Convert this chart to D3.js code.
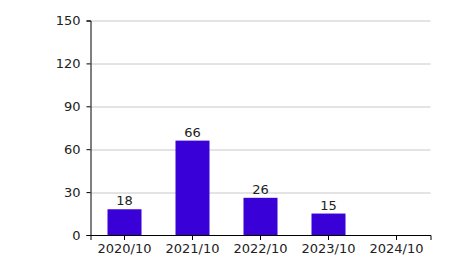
<!DOCTYPE html>
<html>
<head>
<meta charset="utf-8">
<script src="https://cdn.jsdelivr.net/npm/d3@7"></script>
<style>
  body { margin: 0; background: #fff; }
  svg { display: block; }
</style>
</head>
<body>
<svg width="450" height="265"></svg>
<script>
var categories = ['2020/10', '2021/10', '2022/10', '2023/10', '2024/10'];
var values = [18, 66, 26, 15, 0];
var yTicks = [0, 30, 60, 90, 120, 150];

var font = '"DejaVu Sans", Verdana, sans-serif';
var svg = d3.select('svg');
var margin = {top: 20.5, right: 19.5, bottom: 30, left: 90.5};
var width = 450 - margin.left - margin.right;
var height = 265 - margin.top - margin.bottom;

var g = svg.append('g')
  .attr('transform', 'translate(' + margin.left + ',' + margin.top + ')');

var x = d3.scaleBand().domain(categories).range([0, width])
  .paddingInner(0.5).paddingOuter(0.25);
var y = d3.scaleLinear().domain([0, 150]).range([height, 0]);

// gridlines
g.selectAll('.grid')
  .data(yTicks.slice(1))
  .enter().append('line')
  .attr('x1', 0).attr('x2', width)
  .attr('y1', function(d) { return Math.round(y(d)) + 0.5; })
  .attr('y2', function(d) { return Math.round(y(d)) + 0.5; })
  .attr('stroke', '#c8c8c8');

g.selectAll('.bar')
  .data(values)
  .enter().append('rect')
  .attr('x', function(d, i) { return x(categories[i]); })
  .attr('y', function(d) { return y(d); })
  .attr('width', x.bandwidth())
  .attr('height', function(d) { return height - y(d); })
  .attr('fill', '#3a00d8');

g.selectAll('.label')
  .data(values.filter(function(d) { return d > 0; }))
  .enter().append('text')
  .attr('x', function(d, i) { return x(categories[i]) + x.bandwidth() / 2; })
  .attr('y', function(d) { return y(d) - 4; })
  .attr('text-anchor', 'middle')
  .attr('font-family', font)
  .attr('font-size', 13)
  .attr('fill', '#222')
  .text(function(d) { return d; });

var xAxis = g.append('g')
  .attr('transform', 'translate(0,' + height + ')')
  .call(d3.axisBottom(x).tickSizeOuter(0).tickSize(5).tickPadding(4));

var yAxis = g.append('g')
  .call(d3.axisLeft(y).tickValues(yTicks).tickSizeOuter(0).tickSize(4).tickPadding(6));

[xAxis, yAxis].forEach(function(a) {
  a.attr('font-family', font).attr('font-size', 13);
  a.selectAll('text').attr('fill', '#222');
  a.selectAll('path, line').attr('stroke', '#000');
});
</script>
</body>
</html>
